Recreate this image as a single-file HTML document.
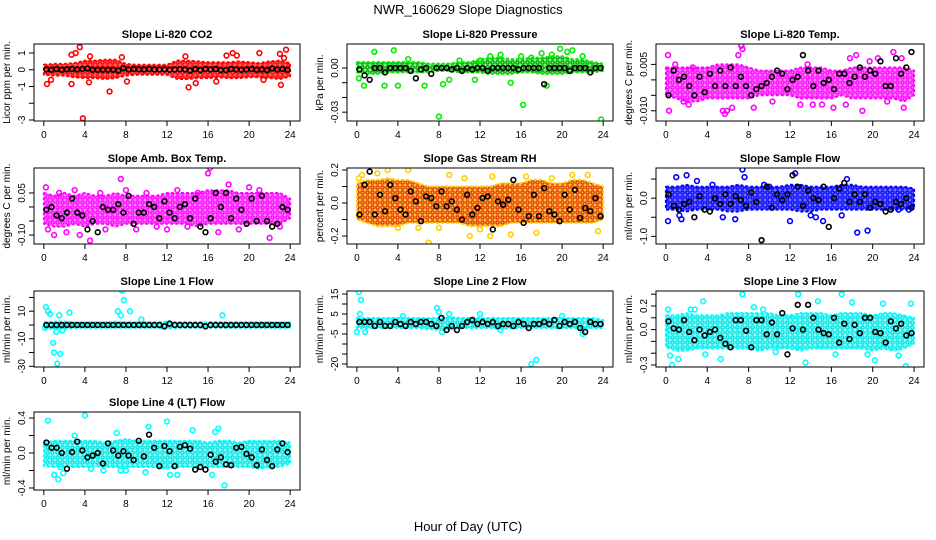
<!DOCTYPE html>
<html><head><meta charset="utf-8">
<style>
html,body{margin:0;padding:0;background:#fff;}
svg{display:block;font-family:"Liberation Sans",Arial,sans-serif;}
</style></head>
<body>
<svg id="chart" width="936" height="540" viewBox="0 0 936 540">
<text x="468" y="14" text-anchor="middle" font-size="13">NWR_160629  Slope Diagnostics</text>
<text x="468" y="531" text-anchor="middle" font-size="13">Hour of Day (UTC)</text>
</svg>
<script>
const xTicks = [0,4,8,12,16,20,24];

const co2BandHi = [0.3,0.35,0.35,0.4,0.55,0.55,0.6,0.6,0.35,0.3,0.3,0.3,0.3,0.55,0.55,0.5,0.45,0.45,0.45,0.5,0.45,0.4,0.5,0.55,0.4];
const co2BandLo = [-0.3,-0.35,-0.35,-0.45,-0.5,-0.5,-0.55,-0.5,-0.35,-0.3,-0.3,-0.3,-0.3,-0.55,-0.55,-0.5,-0.5,-0.45,-0.5,-0.5,-0.45,-0.45,-0.5,-0.55,-0.4];
const co2OutX = [0.3,0.7,2.7,2.7,3.1,3.5,3.8,4.4,4.5,6.4,7.6,8.1,13.8,14.1,14.8,17.8,18.4,18.8,21,23.1,23,23.6,23.4,21.4,16.8];
const co2OutY = [-0.85,-0.6,0.9,-0.85,1.0,1.35,-2.9,-0.75,0.8,-1.3,0.75,-0.7,0.8,-1.05,-0.8,0.85,1.0,0.85,1.0,-0.9,0.95,1.2,0.7,-0.6,-0.7];
const co2Black = [0.02,0,0.05,0,0.03,0.05,0.02,0.05,0.08,0,0,0,0,0,-0.05,0.1,0.02,0.05,0.03,0.02,0.05,0.02,0.02,0.03,0,0.02,0.03,0.02,-0.05,0.05,-0.02,0.05,0.02,0.05,-0.02,-0.02,0.05,0.02,0,0.02,0.05,0,0.02,-0.02,0.08,0.02,0.05,0];

const presBandHi = [0.004,0.004,0.004,0.004,0.004,0.004,0.004,0.003,0.003,0.003,0.004,0.004,0.006,0.007,0.007,0.006,0.006,0.007,0.007,0.008,0.008,0.006,0.006,0.004,0.003];
const presBandLo = [-0.003,-0.004,-0.004,-0.003,-0.003,-0.003,-0.003,-0.003,-0.002,-0.002,-0.003,-0.003,-0.003,-0.004,-0.004,-0.004,-0.003,-0.003,-0.004,-0.004,-0.004,-0.003,-0.003,-0.003,-0.002];
const presOutX = [1.7,3.6,5,0.7,2.7,4,6.6,8,8.4,9,0.2,12,13,14,16,16.2,17,18,19,19.8,20.5,21,22,23.8,15,10,11.5,18.5];
const presOutY = [0.011,0.012,0.006,-0.012,-0.012,-0.012,-0.012,-0.033,-0.011,-0.008,-0.007,0.005,0.008,0.009,0.008,-0.025,0.007,0.01,0.009,0.013,0.011,0.012,0.008,-0.035,-0.01,0.005,-0.008,-0.012];
const presBlack = [-0.001,-0.005,-0.008,0,0,-0.003,0,0,0,0,-0.002,-0.007,-0.001,0,-0.004,0,0,0,-0.001,0,-0.002,0,-0.001,0,0,-0.002,0,0,0,0,0,-0.001,0,0,0,0,-0.011,0,0,0,0,-0.002,0,0,0,-0.003,0,0];

const tempBandHi = [0.004,0.004,0.004,0.004,0.004,0.005,0.005,0.005,0.004,0.003,0.003,0.003,0.003,0.004,0.004,0.004,0.003,0.003,0.004,0.004,0.004,0.004,0.004,0.004,0.003];
const tempBandLo = [-0.005,-0.006,-0.007,-0.007,-0.006,-0.006,-0.006,-0.006,-0.006,-0.005,-0.005,-0.005,-0.005,-0.006,-0.006,-0.006,-0.006,-0.005,-0.006,-0.006,-0.006,-0.006,-0.006,-0.007,-0.005];
const tempOutX = [0.2,0.3,0.9,1.7,2.2,2.6,5.5,5.7,5.9,6.4,7.0,7.3,7.4,8.5,10.3,13.0,13.7,14.2,15.1,16.2,17.4,17.8,18.4,19.0,19.7,21.4,22.0,22.8,23.0,20.5];
const tempOutY = [0.008,-0.010,0.005,-0.007,-0.008,0.004,-0.010,-0.011,-0.010,-0.009,0.008,0.011,0.010,-0.009,-0.007,-0.008,0.005,-0.008,-0.008,-0.009,-0.008,0.007,0.008,-0.010,0.006,-0.007,0.009,0.007,-0.009,0.007];
const tempBlack = [-0.005,0.003,0,0.001,-0.002,-0.005,0.001,-0.004,0.002,-0.002,0.003,-0.002,0.004,-0.002,0.001,-0.002,-0.005,-0.003,-0.002,-0.001,0.001,0.003,0.002,-0.003,0,0.001,0.008,0.003,-0.002,0.003,-0.001,0,-0.003,0.002,0.002,-0.001,0.001,0.004,0.001,0.003,0.002,0.006,-0.002,-0.002,0.007,0.002,0.004,0.009];

const ambBandHi = [0.05,0.04,0.05,0.04,0.05,0.04,0.04,0.05,0.04,0.04,0.04,0.04,0.05,0.05,0.05,0.05,0.06,0.06,0.06,0.05,0.05,0.05,0.05,0.05,0.03];
const ambBandLo = [-0.06,-0.07,-0.07,-0.06,-0.07,-0.06,-0.06,-0.07,-0.06,-0.06,-0.06,-0.06,-0.06,-0.06,-0.06,-0.07,-0.06,-0.06,-0.06,-0.06,-0.06,-0.06,-0.06,-0.06,-0.04];
const ambOutX = [0.2,0.4,1.0,1.5,2.2,3.0,3.5,4.5,5.5,6.0,7.5,8.0,9.0,10.0,11.0,12.0,13.0,14.0,15.0,16.0,17.0,18.0,19.0,20.0,21.0,22.0,23.0,16.2];
const ambOutY = [0.07,-0.08,-0.1,0.05,-0.09,0.06,-0.1,-0.12,0.05,-0.08,0.1,0.06,-0.08,0.05,-0.07,-0.08,0.06,-0.07,0.05,0.12,-0.09,0.08,-0.08,0.07,0.06,-0.11,-0.07,0.14];
const ambBlack = [-0.01,0,-0.03,-0.04,-0.02,0.03,-0.02,-0.03,-0.08,-0.05,-0.09,0,-0.01,-0.01,0.01,-0.02,0.04,-0.06,-0.02,-0.02,0.01,0,-0.04,0.02,-0.02,-0.04,0,0.01,-0.04,0.03,-0.07,-0.09,-0.04,0.05,0,0.05,-0.04,0.03,-0.01,-0.06,0.03,-0.05,0.04,-0.05,-0.07,-0.06,0,-0.01];

const rhBandHi = [0.12,0.14,0.14,0.15,0.14,0.14,0.12,0.1,0.1,0.1,0.1,0.1,0.1,0.1,0.12,0.12,0.12,0.14,0.14,0.12,0.12,0.14,0.14,0.12,0.1];
const rhBandLo = [-0.1,-0.12,-0.14,-0.14,-0.14,-0.12,-0.12,-0.12,-0.12,-0.12,-0.12,-0.14,-0.14,-0.14,-0.14,-0.12,-0.12,-0.12,-0.12,-0.12,-0.12,-0.12,-0.12,-0.12,-0.1];
const rhOutX = [0.5,2.0,3.0,5.0,9.0,11.0,13.0,15.0,17.5,19.0,21.0,23.5,4.0,8.0,13.2,0.2,6.0,10.5,16.5,22.5,7.0,12.0];
const rhOutY = [0.17,0.18,0.2,0.2,0.17,-0.2,-0.2,-0.19,-0.18,0.15,0.17,-0.17,-0.15,-0.15,0.16,0.15,-0.15,0.15,0.16,0.17,-0.24,-0.16];
const rhBlack = [-0.07,0.11,0.19,-0.07,0.05,-0.05,0.11,0.03,-0.04,-0.07,0.07,0.01,-0.11,0.04,0.03,-0.02,0.07,-0.02,0.01,-0.04,-0.1,0.05,-0.07,-0.03,0.03,0.04,-0.16,0.01,-0.01,0.02,0.14,-0.04,-0.12,-0.08,0.05,-0.08,0.09,-0.05,-0.07,-0.11,0.05,-0.04,0.08,-0.09,-0.03,-0.05,0.03,-0.08];

const flowBandHi = [0.3,0.3,0.35,0.3,0.3,0.3,0.3,0.35,0.3,0.3,0.3,0.3,0.35,0.35,0.3,0.3,0.3,0.35,0.35,0.3,0.3,0.3,0.3,0.3,0.25];
const flowBandLo = [-0.3,-0.3,-0.35,-0.3,-0.3,-0.3,-0.35,-0.35,-0.3,-0.3,-0.3,-0.3,-0.3,-0.35,-0.35,-0.3,-0.3,-0.3,-0.3,-0.3,-0.3,-0.3,-0.3,-0.3,-0.25];
const flowOutX = [0.2,1.0,1.3,2.0,3.0,4.5,5.5,6.7,7.4,7.6,9.5,12.0,12.5,14.0,14.5,15.2,17.5,18.5,19.5,17.0,1.5,22.5,23.5,10.0];
const flowOutY = [-0.6,0.55,-0.45,0.6,0.45,0.35,-0.5,-0.55,0.75,0.55,0.35,-0.6,0.65,-0.45,-0.5,-0.6,0.5,-0.9,-0.85,-0.45,-0.55,-0.3,-0.3,0.3];
const flowBlack = [0.1,-0.2,-0.3,-0.15,-0.1,-0.5,0.05,-0.3,-0.35,0,-0.15,0.1,-0.15,0.05,-0.05,-0.2,0.15,-0.1,-1.1,0.3,-0.25,0.1,-0.05,0.1,0.6,0.3,-0.2,0.2,0,-0.05,0.3,-0.75,0,0.25,0.4,-0.1,0.1,-0.1,0.1,-0.25,-0.1,-0.15,-0.35,-0.3,-0.1,-0.15,0,-0.25];

const l1BandHi = [2,2.5,2.5,2,2,2,2,2.5,2,2,2,2,2.5,2,2,2,2,2,2,2,2,2,2,2,2];
const l1BandLo = [-2,-3,-2.5,-2,-2,-2,-2,-2,-2,-2,-2,-2,-2.5,-2,-2,-2,-2,-2,-2,-2,-2,-2,-2,-2,-2];
const l1OutX = [0.2,0.4,0.6,0.9,1.0,1.3,1.6,1.2,1.5,2.5,1.8,7.2,7.5,7.6,7.8,8.4,17.4,9.5,0.1];
const l1OutY = [13,10,8,-13,-20,-28,-21,-5,7,9,-4,10,7,25,18,10,7,4,-2];
const l1Black = [0,0,0,0,0,0,0,0,0,0,0,0,0,0,0,0,0,0,0,0,0,0,0,-1,1,0,0,0,0,0,0,-1,0,0,0,0,0,0,0,0,0,0,0,0,0,0,0,0];

const l2BandHi = [3,3,3,3,3,3,3,3,3,3.5,3,3,3,3,3,3,3,3,3,3,3,3,3,3,2];
const l2BandLo = [-2,-2,-2,-2,-2,-2,-2,-2.5,-3,-2.5,-2,-2,-2,-2,-2.5,-2,-2,-2,-2,-2,-2,-2,-2.5,-2,-2];
const l2OutX = [0.2,0.4,0.3,0.0,0.8,7.8,8.0,8.3,9.0,17.5,17.0,22.0,12.0,14.0,4.5,20.0];
const l2OutY = [16,12,5,-4,-4,8,6,-4,5,-18,-20,-5,5,-3,4,4];
const l2Black = [1,1,1,-1,1,-1,-1,1,0,-1,1,0,1,1,0,-1,3,-3,-1,-3,-1,1,2,0,1,0,1,-1,0,0,-1,1,0,-2,0,0,1,0,2,-1,1,0,1,-2,-4,1,0,0];

const l3BandHi = [0.12,0.12,0.14,0.12,0.12,0.12,0.14,0.14,0.14,0.14,0.14,0.12,0.12,0.14,0.14,0.14,0.12,0.14,0.14,0.14,0.12,0.14,0.14,0.12,0.1];
const l3BandLo = [-0.15,-0.18,-0.18,-0.16,-0.16,-0.16,-0.16,-0.16,-0.16,-0.18,-0.16,-0.16,-0.16,-0.18,-0.16,-0.16,-0.16,-0.16,-0.16,-0.16,-0.18,-0.16,-0.18,-0.16,-0.12];
const l3OutX = [0.2,0.4,0.6,1.2,2.4,3.6,3.8,5.3,7.4,8.5,10.6,12.8,13.5,14.7,16.4,17.0,18.0,19.5,20.2,21.0,22.5,23.2,23.7,2.8,9.4];
const l3OutY = [0.17,-0.22,-0.3,-0.25,0.17,0.24,-0.21,-0.25,0.3,0.19,-0.19,0.3,-0.28,0.24,-0.21,0.3,0.23,-0.21,-0.26,0.22,-0.22,-0.31,0.22,0.17,0.17];
const l3Black = [0.07,0.01,0,0.08,-0.02,-0.09,0,-0.05,-0.02,0,-0.07,-0.12,-0.15,0.08,0.08,-0.01,-0.15,0.08,0.08,-0.04,0.06,-0.04,0.14,-0.21,0.01,0.21,0,0.21,0.1,0,-0.03,-0.04,0.1,-0.11,0.05,-0.08,0.04,-0.03,0.1,0.1,-0.02,-0.03,-0.11,0.07,0.01,0.05,-0.05,-0.03];

const l4BandHi = [0.12,0.14,0.14,0.14,0.14,0.14,0.12,0.14,0.16,0.14,0.14,0.14,0.14,0.14,0.14,0.14,0.12,0.14,0.14,0.12,0.14,0.14,0.14,0.14,0.12];
const l4BandLo = [-0.15,-0.16,-0.16,-0.16,-0.16,-0.15,-0.16,-0.16,-0.16,-0.16,-0.16,-0.16,-0.18,-0.16,-0.16,-0.16,-0.16,-0.16,-0.16,-0.16,-0.16,-0.18,-0.16,-0.16,-0.12];
const l4OutX = [0.4,1.0,1.4,1.9,4.0,5.8,7.1,7.5,8.0,9.9,10.2,12.0,12.3,13.0,14.5,16.7,17.0,17.6,16.4,4.6,1.6,3.0];
const l4OutY = [0.37,-0.25,-0.3,-0.23,0.43,-0.2,0.23,-0.2,-0.2,-0.22,0.3,0.36,-0.25,-0.25,0.26,0.24,0.28,-0.37,-0.25,-0.18,-0.16,0.2];
const l4Black = [0.12,0.06,0.06,0,-0.18,0.01,0.13,0.03,-0.05,-0.03,0,-0.12,0.11,0.03,-0.03,0.02,-0.03,-0.08,0.14,-0.04,0.21,0.06,-0.15,0.08,0.02,-0.15,0.07,0.09,0.05,-0.19,-0.16,-0.19,-0.02,-0.1,-0.05,-0.13,-0.14,0.06,0.07,-0.01,-0.05,-0.14,0.04,-0.08,-0.15,0.04,0.11,0.01];

const titles = ["Slope Li-820 CO2","Slope Li-820 Pressure","Slope Li-820 Temp.","Slope Amb. Box Temp.","Slope Gas Stream RH","Slope Sample Flow","Slope Line 1 Flow","Slope Line 2 Flow","Slope Line 3 Flow","Slope Line 4 (LT) Flow"];
const yTitles = ["Licor ppm per min.","kPa per min.","degrees C per min.","degrees C per min.","percent per min.","ml/min per min.","ml/min per min.","ml/min per min.","ml/min per min.","ml/min per min."];
const yTicks = [[-3,-2,-1,0,1],[-0.03,-0.02,-0.01,0],[-0.01,-0.005,0,0.005],[-0.1,-0.05,0,0.05],[-0.2,-0.1,0,0.1,0.2],[-1,-0.5,0,0.5],[-30,-20,-10,0,10,20],[-20,-15,-10,-5,0,5,10,15],[-0.3,-0.2,-0.1,0,0.1,0.2,0.3],[-0.4,-0.2,0,0.2,0.4]];
const yTickLabels = [["-3","","-1","0","1"],["-0.03","","","0.00"],["-0.010","","","0.005"],["-0.10","","","0.05"],["-0.2","","0.0","","0.2"],["-1.0","","0.0",""],["-30","","-10","","10",""],["-20","","","-5","","5","","15"],["-0.3","","","0.0","","0.2",""],["-0.4","","0.0","","0.4"]];
const yRanges = [[-3.06,1.54],[-0.036,0.0163],[-0.0133,0.0116],[-0.132,0.139],[-0.248,0.212],[-1.2,0.79],[-30.5,24.7],[-21.5,16.5],[-0.317,0.327],[-0.423,0.469]];
const series = [
 [co2BandHi,co2BandLo,co2OutX,co2OutY,co2Black],
 [presBandHi,presBandLo,presOutX,presOutY,presBlack],
 [tempBandHi,tempBandLo,tempOutX,tempOutY,tempBlack],
 [ambBandHi,ambBandLo,ambOutX,ambOutY,ambBlack],
 [rhBandHi,rhBandLo,rhOutX,rhOutY,rhBlack],
 [flowBandHi,flowBandLo,flowOutX,flowOutY,flowBlack],
 [l1BandHi,l1BandLo,l1OutX,l1OutY,l1Black],
 [l2BandHi,l2BandLo,l2OutX,l2OutY,l2Black],
 [l3BandHi,l3BandLo,l3OutX,l3OutY,l3Black],
 [l4BandHi,l4BandLo,l4OutX,l4OutY,l4Black]
];
const colors = [["#ff0000","#ff6060","#ff0000"],["#00ee00","#7aff7a","#009900"],["#ff00ff","#ff80ff","#ff00ff"],["#ff00ff","#ff80ff","#ff00ff"],["#ffd000","#ffc040","#e03000"],["#0000ff","#7070ff","#0000ff"],["#00ffff","#90ffff","#00e0e0"],["#00ffff","#90ffff","#00e0e0"],["#00ffff","#90ffff","#00e0e0"],["#00ffff","#90ffff","#00e0e0"]];
const slugs = ["co2","pressure","li820-temp","amb-box-temp","gas-rh","sample-flow","line1-flow","line2-flow","line3-flow","line4-flow"];

const cols = [[34,300],[347,613],[656,924]];
const rows = [[44,121],[168,244],[291,367],[412,490]];
const NS = "http://www.w3.org/2000/svg";
const svg = document.getElementById("chart");
function mk(tag, attrs, parent){const e=document.createElementNS(NS,tag);for(const k in attrs)e.setAttribute(k,attrs[k]);(parent||svg).appendChild(e);return e;}
const defs = mk("defs",{});

for(let p=0;p<10;p++){
  const c=cols[p%3], r=rows[Math.floor(p/3)];
  const L=c[0],R=c[1],T=r[0],B=r[1];
  const pad=(R-L)*0.04/1.08;
  const xs=h=>L+pad+(h/24)*(R-L-2*pad);
  const yr=yRanges[p];
  const ys=v=>B-(v-yr[0])/(yr[1]-yr[0])*(B-T);
  // texture pattern for the dense band
  const pat=mk("pattern",{id:"pt"+p,width:"5",height:"5",patternUnits:"userSpaceOnUse"},defs);
  mk("rect",{width:"5",height:"5",fill:colors[p][1]},pat);
  mk("circle",{cx:"2.5",cy:"2.5",r:"1.6",fill:"none",stroke:colors[p][2],"stroke-width":"1.3"},pat);

  const g=mk("g",{});
  
  
  const t=mk("text",{x:(L+R)/2,y:T-6,"text-anchor":"middle","font-size":"11","font-weight":"bold"},g);
  t.textContent=titles[p];
  
  
  const clip=mk("clipPath",{id:"c"+p},g); mk("rect",{x:L,y:T,width:R-L,height:B-T},clip);
  const pg=mk("g",{"clip-path":"url(#c"+p+")"},g);
  const [hi,lo,ox,oy,bk]=series[p];
  let d="";
  for(let i=0;i<hi.length;i++) d+=(i?"L":"M")+xs(i).toFixed(1)+","+ys(hi[i]).toFixed(1);
  for(let i=lo.length-1;i>=0;i--) d+="L"+xs(i).toFixed(1)+","+ys(lo[i]).toFixed(1);
  const band=mk("path",{d:d+"Z",fill:"url(#pt"+p+")",stroke:colors[p][0],"stroke-width":"2","stroke-linejoin":"round","stroke-dasharray":"3 2"},pg);
  
  
  for(let i=0;i<ox.length;i++){
    const pt=mk("circle",{cx:xs(ox[i]),cy:ys(oy[i]),r:2.4,fill:"none",stroke:colors[p][0],"stroke-width":"1.6"},pg);
    
    
  }
  for(let i=0;i<bk.length;i++){
    const pt=mk("circle",{cx:xs(i*0.5+0.25),cy:ys(bk[i]),r:2.4,fill:"none",stroke:"#000","stroke-width":"1.6"},pg);
    
    
  }
  const box=mk("rect",{x:L,y:T,width:R-L,height:B-T,fill:"none",stroke:"#000","stroke-width":"1"},g);
  
  
  const xa=mk("g",{},g);
  
  
  mk("line",{x1:xs(xTicks[0]),x2:xs(xTicks[xTicks.length-1]),y1:B,y2:B,stroke:"#000"},xa);
  xTicks.forEach(v=>{
    mk("line",{x1:xs(v),x2:xs(v),y1:B,y2:B+5,stroke:"#000"},xa);
    const tl=mk("text",{x:xs(v),y:B+17,"text-anchor":"middle","font-size":"10"},xa);
    tl.textContent=v;
  });
  const ya=mk("g",{},g);
  
  
  const yt=yTicks[p];
  mk("line",{x1:L,x2:L,y1:ys(yt[0]),y2:ys(yt[yt.length-1]),stroke:"#000"},ya);
  yt.forEach((v,i)=>{
    mk("line",{x1:L-5,x2:L,y1:ys(v),y2:ys(v),stroke:"#000"},ya);
    const lab=yTickLabels[p][i];
    if(lab){const tl=mk("text",{x:L-9,y:ys(v),"text-anchor":"middle","font-size":"10",transform:"rotate(-90 "+(L-9)+" "+ys(v)+")"},ya);tl.textContent=lab;}
  });
  const yl=mk("text",{x:L-24,y:(T+B)/2,"text-anchor":"middle","font-size":"10",transform:"rotate(-90 "+(L-24)+" "+(T+B)/2+")"},g);
  yl.textContent=yTitles[p];
  
  
}
</script>
</body></html>
